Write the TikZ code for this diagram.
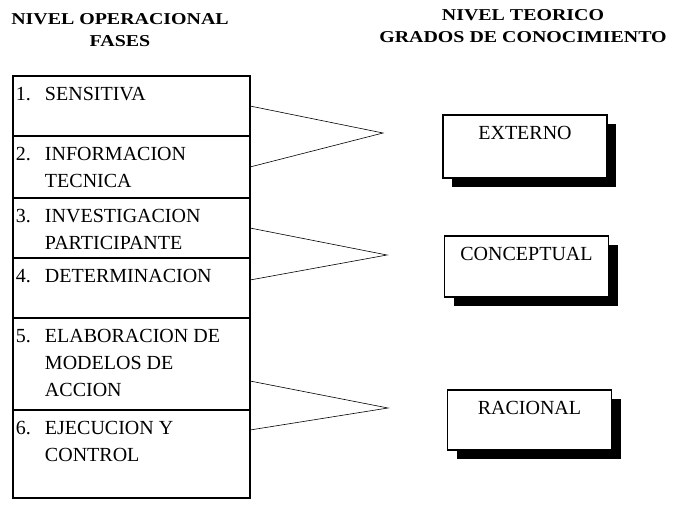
\documentclass[tikz,border=0pt]{standalone}
\usepackage{fontspec}
\setmainfont{Liberation Serif}
\newfontfamily\headfont{Liberation Serif Bold}[FakeStretch=1.2]
\usetikzlibrary{positioning,shadows}

\newcommand{\fase}[3]{\parbox[c][#1][t]{231pt}{\rule{0pt}{24pt}\makebox[29pt][l]{#2}\begin{tabular}[t]{@{}l@{}}#3\end{tabular}}}
\newcommand{\grado}[2]{\parbox[c][#1][t]{160pt}{\centering\rule{0pt}{24pt}#2}}

\begin{document}
\begin{tikzpicture}[x=1pt, y=-1pt,
  fasebox/.style={draw, rectangle, line width=1.8pt, inner xsep=3pt, inner ysep=0pt, outer sep=0pt, font=\fontsize{20}{27}\selectfont},
  gradobox/.style={draw, rectangle, fill=white, line width=1.6pt, inner xsep=2pt, inner ysep=0pt, outer sep=0pt, font=\fontsize{20}{27}\selectfont, drop shadow={shadow xshift=9pt, shadow yshift=-9pt, opacity=1, fill=black}},
  head/.style={align=center, inner sep=0pt, anchor=north, font=\headfont\fontsize{16.6}{22.5}\selectfont},
  line/.style={line width=0.6pt}]

\useasboundingbox (0,0) rectangle (678,504);

% Headers
\node[head] (h1) at (120,13) {NIVEL OPERACIONAL\\FASES};
\node[head] (h2) at (523,9) {NIVEL TEORICO\\GRADOS DE CONOCIMIENTO};

% Fases
\node[fasebox] (f1) at (131.5,106) {\fase{60pt}{1.}{SENSITIVA}};
\node[fasebox, below=0pt of f1] (f2) {\fase{62pt}{2.}{INFORMACION\\TECNICA}};
\node[fasebox, below=0pt of f2] (f3) {\fase{60pt}{3.}{INVESTIGACION\\PARTICIPANTE}};
\node[fasebox, below=0pt of f3] (f4) {\fase{60pt}{4.}{DETERMINACION}};
\node[fasebox, below=0pt of f4] (f5) {\fase{92pt}{5.}{ELABORACION DE\\MODELOS DE\\ACCION}};
\node[fasebox, below=0pt of f5] (f6) {\fase{88pt}{6.}{EJECUCION Y\\CONTROL}};

% Grados
\node[gradobox] (g1) at (525,146.5) {\grado{63pt}{EXTERNO}};
\node[gradobox] (g2) at (526.5,266.5) {\grado{61pt}{CONCEPTUAL}};
\node[gradobox] (g3) at (529.5,420) {\grado{60pt}{RACIONAL}};

% Edges
\coordinate (a1) at (383,133);
\coordinate (a2) at (387,255);
\coordinate (a3) at (388,408);
\draw[line] (f1.east) -- (a1) -- (f2.east);
\draw[line] (f3.east) -- (a2) -- ([yshift=8pt]f4.east);
\draw[line] ([yshift=-17pt]f5.east) -- (a3) -- ([yshift=24pt]f6.east);

\end{tikzpicture}
\end{document}
